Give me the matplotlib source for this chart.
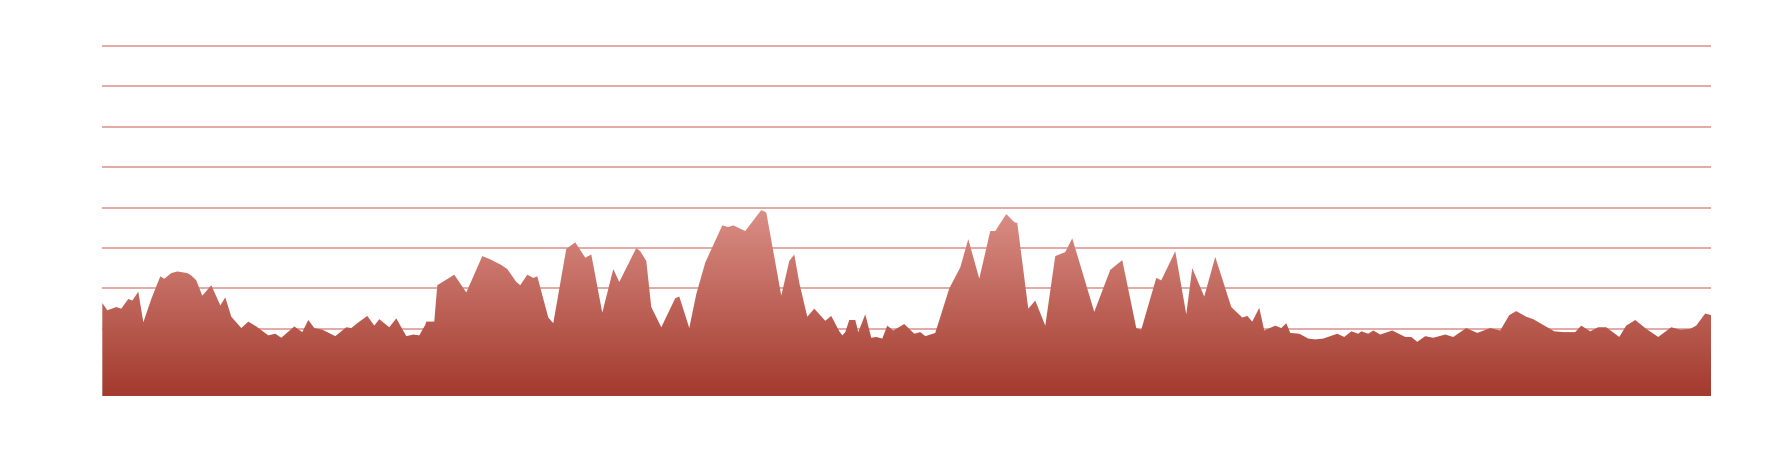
import numpy as np
import matplotlib
matplotlib.use("Agg")
import matplotlib.pyplot as plt
from matplotlib.colors import LinearSegmentedColormap
from matplotlib.patches import Polygon

# distance along route (km) and elevation (m)
dist_km = np.array([
    0.0, 0.5, 1.4, 1.9, 2.6, 3.0, 3.6, 4.1, 4.9, 5.8, 6.2, 6.9, 7.5, 8.5, 8.9, 9.4,
    10.0, 10.9, 11.8, 12.3, 12.9, 13.9, 14.6, 15.4, 16.6, 17.3, 17.9, 19.2, 20.0, 20.6,
    21.2, 22.0, 23.3, 24.4, 24.9, 25.6, 26.5, 27.2, 27.7, 28.7, 29.4, 30.4, 31.1, 31.7,
    32.3, 32.4, 33.2, 33.5, 35.2, 36.4, 38.0, 38.8, 39.9, 40.5, 41.4, 41.8, 42.5, 43.1,
    43.5, 44.6, 45.1, 46.4, 47.3, 48.3, 48.9, 50.0, 51.1, 51.7, 53.4, 53.8, 54.4, 54.9,
    55.9, 57.3, 57.7, 58.7, 59.4, 60.3, 62.0, 62.6, 63.1, 64.3, 65.9, 66.4, 67.9, 68.7,
    69.2, 69.7, 70.5, 71.2, 72.3, 72.9, 73.7, 74.0, 74.3, 74.7, 75.3, 75.6, 76.3, 76.9,
    77.4, 78.0, 78.5, 79.1, 80.2, 81.2, 81.8, 82.3, 83.3, 84.7, 85.8, 86.6, 87.7, 88.8,
    89.3, 90.4, 91.2, 91.5, 92.6, 93.3, 94.3, 95.3, 96.3, 97.0, 99.2, 100.8, 102.0, 103.4,
    103.9, 105.4, 105.9, 107.3, 108.4, 109.0, 110.2, 111.3, 112.9, 114.0, 114.5, 115.0,
    115.7, 116.2, 117.3, 117.9, 118.4, 118.8, 119.7, 120.6, 121.3, 122.1, 123.5, 124.2,
    124.9, 125.6, 125.9, 126.6, 127.1, 127.8, 129.0, 130.3, 130.9, 131.5, 132.3, 133.1,
    134.3, 135.1, 136.4, 137.5, 138.8, 139.8, 140.7, 141.4, 142.4, 143.1, 145.2, 146.1,
    147.3, 147.9, 148.8, 149.6, 150.4, 151.7, 152.4, 153.3, 154.4, 155.6, 156.9, 157.8,
    158.8, 159.4, 160.3, 160.9,
])
elev_m = np.array([
    182, 173, 177, 175, 187, 185, 196, 158, 187, 215, 212, 219, 221, 219, 216, 210,
    191, 204, 179, 189, 165, 151, 159, 153, 142, 144, 139, 153, 146, 161,
    151, 149, 141, 152, 151, 158, 166, 154, 162, 152, 163, 141, 143, 142,
    155, 159, 159, 204, 217, 195, 240, 236, 229, 224, 208, 204, 217, 213,
    215, 164, 157, 249, 257, 238, 242, 170, 224, 208, 250, 246, 234, 177,
    152, 188, 190, 151, 193, 232, 278, 276, 278, 271, 297, 294, 191, 234,
    242, 207, 165, 175, 160, 166, 147, 142, 146, 161, 161, 146, 168, 139,
    140, 138, 154, 148, 156, 144, 146, 141, 145, 200, 226, 261, 212, 271,
    271, 292, 282, 281, 175, 185, 154, 240, 245, 262, 171, 223, 235, 151,
    149, 213, 210, 246, 168, 225, 190, 239, 177, 164, 166, 159,
    176, 148, 154, 151, 157, 145, 144, 138, 137, 138, 144, 140,
    147, 144, 147, 144, 148, 143, 148, 140, 140, 134, 141, 139,
    143, 140, 151, 145, 151, 148, 167, 172, 165, 162, 147, 146,
    146, 154, 147, 152, 152, 140, 154, 161, 150, 140, 152, 149,
    150, 154, 169, 167,
])
grid_levels = [150, 200, 250, 300, 350, 400, 450, 500]
y_min, y_max = 67, 500

fig = plt.figure(figsize=(17.7, 4.6), dpi=100)
ax = fig.add_axes([0.0578, 0.137, 0.909, 0.761])

for lvl in grid_levels:
    # top line sits on the axes edge, so don't let it get clipped in half
    ax.axhline(lvl, color="#e2a39d", lw=1.3, zorder=1, clip_on=(lvl != y_max),
               solid_capstyle="butt")

# area under the profile, filled with a vertical gradient
verts = [(dist_km[0], y_min)] + list(zip(dist_km, elev_m)) + [(dist_km[-1], y_min)]
area = Polygon(verts, closed=True, facecolor="none", edgecolor="none")
ax.add_patch(area)

cmap = LinearSegmentedColormap.from_list("elev", ["#a33a2d", "#da8e86"])
grad = np.linspace(0, 1, 256).reshape(-1, 1)
im = ax.imshow(grad, extent=[dist_km[0], dist_km[-1], y_min, elev_m.max()],
               origin="lower", aspect="auto", cmap=cmap, zorder=2)
im.set_clip_path(area)

ax.set_xlim(dist_km[0], dist_km[-1])
ax.set_ylim(y_min, y_max)
ax.axis("off")

fig.savefig("out.png", dpi=100)
